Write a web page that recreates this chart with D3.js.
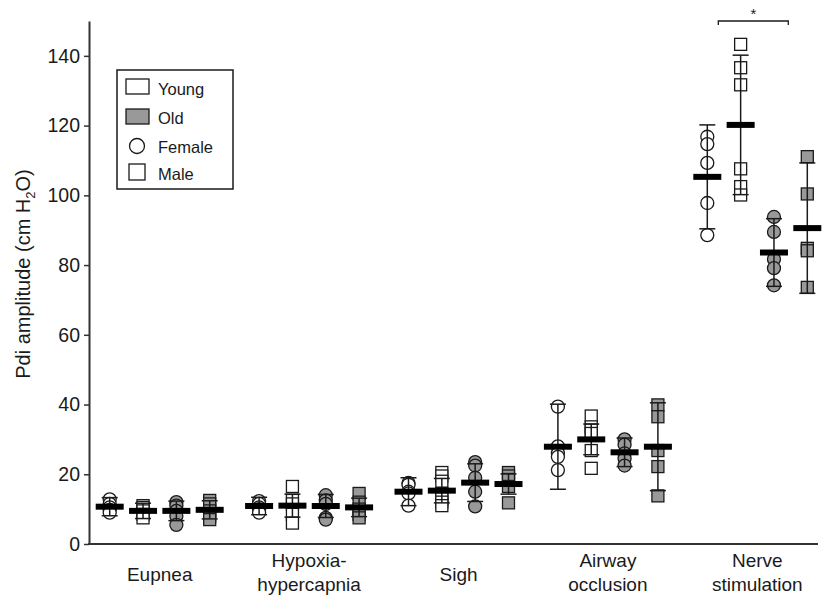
<!DOCTYPE html>
<html><head><meta charset="utf-8">
<script src="https://cdn.jsdelivr.net/npm/d3@7"></script>
<style>body{margin:0;background:#fff}svg{display:block;font-family:"Liberation Sans",Arial,sans-serif}</style>
</head><body><svg id="c" width="828" height="597"></svg>
<script>
const groups = ["Eupnea", "Hypoxia-\nhypercapnia", "Sigh", "Airway\nocclusion", "Nerve\nstimulation"];
const subgroups = ["YF", "YM", "OF", "OM"];
const yTicks = [0, 20, 40, 60, 80, 100, 120, 140];
const legendItems = ["Young", "Old", "Female", "Male"];

// individual points per group (Eupnea, Hypoxia, Sigh, Airway, Nerve)
const youngFemale = [
  [12.8, 11.5, 10.5, 9.8, 9.0],
  [12.3, 11.5, 10.5, 10.0, 9.0],
  [17.5, 17.0, 15.0, 14.5, 11.0],
  [39.4, 28.0, 26.0, 25.0, 21.2],
  [116.8, 114.7, 109.3, 97.8, 88.6]
];
const youngMale = [
  [11.0, 10.5, 9.5, 8.5, 7.5],
  [16.5, 12.5, 11.5, 8.5, 6.0],
  [20.5, 19.5, 18.0, 14.5, 13.0, 12.0, 11.0],
  [36.7, 33.6, 32.7, 31.7, 26.8, 21.7],
  [143.3, 136.6, 131.7, 107.6, 102.5, 100.1]
];
const oldFemale = [
  [12.0, 11.0, 9.5, 8.0, 5.5],
  [14.0, 12.5, 11.5, 7.5, 7.0],
  [23.5, 22.5, 19.0, 15.0, 10.8],
  [30.0, 28.5, 26.0, 24.5, 22.5],
  [93.8, 89.5, 81.7, 79.1, 74.2]
];
const oldMale = [
  [12.5, 11.5, 9.5, 8.0, 7.0],
  [14.5, 12.0, 10.0, 8.5, 7.5],
  [20.5, 19.5, 18.5, 16.5, 11.8],
  [39.9, 36.5, 26.8, 22.2, 13.8],
  [111.1, 100.4, 84.8, 84.1, 73.6]
];
// means and SD
const meanYF = [10.7, 10.9, 15.0, 27.9, 105.3];
const sdYF   = [2.6, 2.5, 4.0, 12.2, 14.9];
const meanYM = [9.5, 11.0, 15.3, 30.0, 120.2];
const sdYM   = [2.2, 3.3, 3.5, 4.4, 20.0];
const meanOF = [9.5, 10.9, 17.6, 26.3, 83.6];
const sdOF   = [2.8, 3.3, 5.4, 4.1, 9.7];
const meanOM = [9.8, 10.5, 17.2, 27.9, 90.6];
const sdOM   = [2.6, 2.65, 2.9, 12.6, 18.7];

const series = {
  YF: {pts: youngFemale, mean: meanYF, sd: sdYF, shape: "circle", fill: "#fff"},
  YM: {pts: youngMale, mean: meanYM, sd: sdYM, shape: "square", fill: "#fff"},
  OF: {pts: oldFemale, mean: meanOF, sd: sdOF, shape: "circle", fill: "#999"},
  OM: {pts: oldMale, mean: meanOM, sd: sdOM, shape: "square", fill: "#999"}
};

const svg = d3.select("#c");
const ink = "#1a1a1a";
const x = d3.scaleBand().domain(groups).range([85, 832]);
const xs = d3.scalePoint().domain(subgroups).range([-50, 50]);
const y = d3.scaleLinear().domain([0, 150]).range([544, 21]);
const cx = (g, s) => x(g) + x.bandwidth() / 2 + xs(s);

// axes
const yAxis = svg.append("g").attr("transform", "translate(89,0)")
  .call(d3.axisLeft(y).tickValues(yTicks).tickSize(5).tickSizeOuter(0).tickPadding(4));
yAxis.select(".domain").attr("stroke", "#333").attr("stroke-width", 2);
yAxis.selectAll(".tick line").attr("stroke", "#333").attr("stroke-width", 1.5);
yAxis.selectAll(".tick text").attr("font-size", 19.5).attr("fill", ink)
  .attr("font-family", "Liberation Sans, Arial, sans-serif");
svg.append("line").attr("x1", 88).attr("x2", 818).attr("y1", y(0)).attr("y2", y(0))
  .attr("stroke", "#333").attr("stroke-width", 2);

// x labels
groups.forEach(g => {
  const lines = g.split("\n");
  const t = svg.append("text").attr("text-anchor", "middle").attr("font-size", 19).attr("fill", ink)
    .attr("x", x(g) + x.bandwidth() / 2);
  if (lines.length === 1) {
    t.attr("y", 581).text(lines[0]);
  } else {
    lines.forEach((l, i) => t.append("tspan").attr("x", x(g) + x.bandwidth() / 2).attr("y", 567 + i * 24).text(l));
  }
});

// y title
const yt = svg.append("text").attr("transform", "translate(30,274) rotate(-90)")
  .attr("text-anchor", "middle").attr("font-size", 20).attr("fill", ink);
yt.append("tspan").text("Pdi amplitude (cm H");
yt.append("tspan").attr("font-size", 13).attr("dy", 5).text("2");
yt.append("tspan").attr("dy", -5).text("O)");

// data
groups.forEach((g, gi) => {
  subgroups.forEach(s => {
    const d = series[s];
    const X = cx(g, s);
    const gg = svg.append("g");
    d.pts[gi].forEach(v => {
      if (d.shape === "circle") {
        gg.append("circle").attr("cx", X).attr("cy", y(v)).attr("r", 6.5)
          .attr("fill", d.fill).attr("stroke", ink).attr("stroke-width", 1.3);
      } else {
        gg.append("rect").attr("x", X - 6).attr("y", y(v) - 6).attr("width", 12).attr("height", 12)
          .attr("fill", d.fill).attr("stroke", ink).attr("stroke-width", 1.3);
      }
    });
    const m = d.mean[gi], sd = d.sd[gi];
    gg.append("line").attr("x1", X).attr("x2", X).attr("y1", y(m + sd)).attr("y2", y(m - sd))
      .attr("stroke", ink).attr("stroke-width", 1.5);
    [m + sd, m - sd].forEach(v => gg.append("line").attr("x1", X - 8).attr("x2", X + 8)
      .attr("y1", y(v)).attr("y2", y(v)).attr("stroke", ink).attr("stroke-width", 1.5));
    gg.append("rect").attr("x", X - 14).attr("y", y(m) - 3).attr("width", 28).attr("height", 6).attr("fill", "#000");
  });
});

// significance bracket (Nerve stimulation, young vs old)
const ng = groups[4];
const bx1 = cx(ng, "YF") + 11, bx2 = cx(ng, "OM") - 19, by = 21;
svg.append("path").attr("d", `M${bx1},${by + 4}V${by}H${bx2}V${by + 4}`)
  .attr("fill", "none").attr("stroke", ink).attr("stroke-width", 1.3);
svg.append("text").attr("x", (bx1 + bx2) / 2).attr("y", 19).attr("text-anchor", "middle")
  .attr("font-size", 15).attr("fill", ink).text("*");

// legend
const lg = svg.append("g");
lg.append("rect").attr("x", 117).attr("y", 70).attr("width", 116).attr("height", 119)
  .attr("fill", "#fff").attr("stroke", ink).attr("stroke-width", 1.5);
lg.append("rect").attr("x", 126).attr("y", 79).attr("width", 23).attr("height", 15).attr("fill", "#fff").attr("stroke", ink).attr("stroke-width", 1.3);
lg.append("rect").attr("x", 126).attr("y", 109).attr("width", 23).attr("height", 15).attr("fill", "#999").attr("stroke", ink).attr("stroke-width", 1.3);
lg.append("circle").attr("cx", 137).attr("cy", 146).attr("r", 7.5).attr("fill", "#fff").attr("stroke", ink).attr("stroke-width", 1.3);
lg.append("rect").attr("x", 129).attr("y", 164).attr("width", 16).attr("height", 16).attr("fill", "#fff").attr("stroke", ink).attr("stroke-width", 1.3);
const ly = [95, 124, 153, 180];
legendItems.forEach((t, i) => lg.append("text").attr("x", 158).attr("y", ly[i])
  .attr("font-size", 16.5).attr("fill", ink).text(t));
</script></body></html>
